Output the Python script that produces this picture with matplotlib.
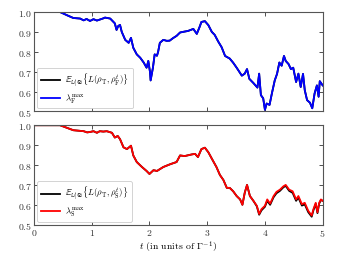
import numpy as np
import matplotlib
matplotlib.use("Agg")
import matplotlib.pyplot as plt

plt.rcParams['font.family'] = 'serif'
plt.rcParams['font.serif'] = ['cmr10', 'DejaVu Serif']
plt.rcParams['mathtext.fontset'] = 'cm'
plt.rcParams['axes.formatter.use_mathtext'] = True

# values
t_top = [0.0, 0.2, 0.45, 0.57, 0.68, 0.8, 0.86, 0.91, 0.97, 1.03, 1.09, 1.14, 1.2, 1.23, 1.32,
         1.40, 1.43, 1.46, 1.49, 1.52, 1.58, 1.64, 1.68, 1.72, 1.78, 1.84, 1.90, 1.95, 1.98,
         2.01, 2.02, 2.06, 2.09, 2.13, 2.15, 2.18, 2.24, 2.30, 2.35, 2.41, 2.47, 2.53, 2.58,
         2.67, 2.76, 2.82, 2.87, 2.90, 2.96, 3.02, 3.08, 3.13, 3.19, 3.25, 3.31, 3.39, 3.45,
         3.51, 3.60, 3.65, 3.69, 3.73, 3.80, 3.87, 3.90, 3.93, 3.97, 4.00, 4.03, 4.08, 4.12,
         4.17, 4.21, 4.25, 4.29, 4.33, 4.36, 4.41, 4.45, 4.49, 4.54, 4.58, 4.62, 4.66, 4.69,
         4.73, 4.78, 4.82, 4.86, 4.90, 4.93, 4.95, 5.0]
lam_top = [1.0, 1.0, 1.0, 0.984, 0.97, 0.967, 0.958, 0.965, 0.955, 0.964, 0.957, 0.962, 0.968,
           0.972, 0.967, 0.943, 0.91, 0.93, 0.935, 0.90, 0.86, 0.845, 0.87, 0.82, 0.787, 0.77,
           0.746, 0.72, 0.754, 0.697, 0.656, 0.72, 0.787, 0.78, 0.80, 0.845, 0.86, 0.855, 0.856,
           0.869, 0.88, 0.897, 0.90, 0.905, 0.915, 0.89, 0.926, 0.95, 0.954, 0.934, 0.90,
           0.885, 0.852, 0.823, 0.779, 0.766, 0.745, 0.72, 0.68, 0.69, 0.713, 0.664, 0.643,
           0.62, 0.69, 0.582, 0.566, 0.508, 0.54, 0.533, 0.59, 0.656, 0.689, 0.746, 0.73,
           0.779, 0.754, 0.738, 0.713, 0.72, 0.648, 0.69, 0.623, 0.689, 0.607, 0.557, 0.544,
           0.516, 0.59, 0.631, 0.574, 0.652, 0.631]
# expectation value lies right under the blue curve
exp_top = list(lam_top)

t_bot = [0.0, 0.2, 0.45, 0.57, 0.68, 0.86, 0.92, 0.97, 1.03, 1.09, 1.14, 1.20, 1.26, 1.35,
         1.40, 1.45, 1.49, 1.55, 1.61, 1.68, 1.72, 1.78, 1.87, 1.95, 2.0, 2.07, 2.13, 2.24,
         2.36, 2.47, 2.53, 2.61, 2.73, 2.79, 2.84, 2.90, 2.96, 3.02, 3.08, 3.16, 3.22, 3.28,
         3.34, 3.39, 3.45, 3.51, 3.57, 3.61, 3.65, 3.69, 3.74, 3.80, 3.86, 3.90, 3.94, 4.00,
         4.04, 4.09, 4.15, 4.20, 4.26, 4.32, 4.36, 4.42, 4.48, 4.54, 4.58, 4.64, 4.69, 4.75,
         4.81, 4.84, 4.88, 4.91, 4.94, 4.97, 5.0]
lam_bot = [1.0, 1.0, 1.0, 0.987, 0.975, 0.97, 0.964, 0.966, 0.97, 0.962, 0.97, 0.968, 0.97,
           0.962, 0.938, 0.946, 0.93, 0.889, 0.88, 0.897, 0.848, 0.815, 0.79, 0.77, 0.755,
           0.774, 0.77, 0.79, 0.804, 0.815, 0.848, 0.845, 0.853, 0.856, 0.84, 0.88, 0.887,
           0.864, 0.832, 0.79, 0.75, 0.725, 0.685, 0.685, 0.668, 0.644, 0.627, 0.60, 0.66,
           0.70, 0.644, 0.62, 0.595, 0.554, 0.578, 0.595, 0.627, 0.606, 0.644, 0.665, 0.676,
           0.693, 0.70, 0.676, 0.668, 0.627, 0.644, 0.603, 0.61, 0.57, 0.546, 0.578, 0.61,
           0.562, 0.61, 0.627, 0.62]
exp_bot = [1.0, 1.0, 1.0, 0.987, 0.975, 0.97, 0.964, 0.966, 0.97, 0.962, 0.97, 0.968, 0.97,
           0.962, 0.938, 0.946, 0.93, 0.889, 0.88, 0.897, 0.848, 0.815, 0.79, 0.77, 0.755,
           0.774, 0.77, 0.79, 0.804, 0.815, 0.848, 0.845, 0.853, 0.856, 0.84, 0.88, 0.887,
           0.864, 0.832, 0.79, 0.75, 0.725, 0.685, 0.685, 0.668, 0.644, 0.627, 0.60, 0.66,
           0.70, 0.644, 0.62, 0.592, 0.550, 0.572, 0.590, 0.620, 0.600, 0.638, 0.658, 0.670,
           0.688, 0.695, 0.670, 0.660, 0.620, 0.636, 0.596, 0.602, 0.563, 0.540, 0.572, 0.605,
           0.558, 0.606, 0.624, 0.62]

fig = plt.figure(figsize=(3.4, 2.55), dpi=100)
ax1 = fig.add_axes([0.1, 0.559, 0.849, 0.39])
ax2 = fig.add_axes([0.1, 0.115, 0.849, 0.39])

ax1.plot(t_top, exp_top, 'k-', lw=1.3,
         label=r'$\mathbb{E}_{\mathbb{U}|\mathfrak{S}}\{L(\rho_{\rm T},\rho_{\rm F}^t)\}$')
ax1.plot(t_top, lam_top, '-', color='#0000ff', lw=1.3, label=r'$\lambda_{\rm F}^{\max}$')
ax2.plot(t_bot, exp_bot, 'k-', lw=1.3,
         label=r'$\mathbb{E}_{\mathbb{U}|\mathfrak{S}}\{L(\rho_{\rm T},\rho_{\rm S}^t)\}$')
ax2.plot(t_bot, lam_bot, '-', color='#ff0000', lw=1.3, label=r'$\lambda_{\rm S}^{\max}$')

for ax in (ax1, ax2):
    ax.set_xlim(0, 5)
    ax.set_ylim(0.5, 1.0)
    ax.set_xticks([0, 1, 2, 3, 4, 5])
    ax.set_yticks([0.5, 0.6, 0.7, 0.8, 0.9, 1.0])
    ax.tick_params(direction='in', top=True, right=True, labelsize=7, length=3,
                   width=0.6, pad=1.5, colors='#333333')
    for s in ax.spines.values():
        s.set_color('#555555')
        s.set_linewidth(0.8)
    leg = ax.legend(loc='lower left', fontsize=6.3, handlelength=2.2, borderpad=0.4,
                    labelspacing=0.3, handletextpad=0.6, borderaxespad=0.35, framealpha=1)
    leg.get_frame().set_edgecolor('#cccccc')
    leg.get_frame().set_linewidth(0.6)

ax1.tick_params(labelbottom=False)
ax2.set_xlabel(r'$t$ (in units of $\Gamma^{-1}$)', fontsize=7, labelpad=0.5)

plt.savefig('out.png', dpi=100)
